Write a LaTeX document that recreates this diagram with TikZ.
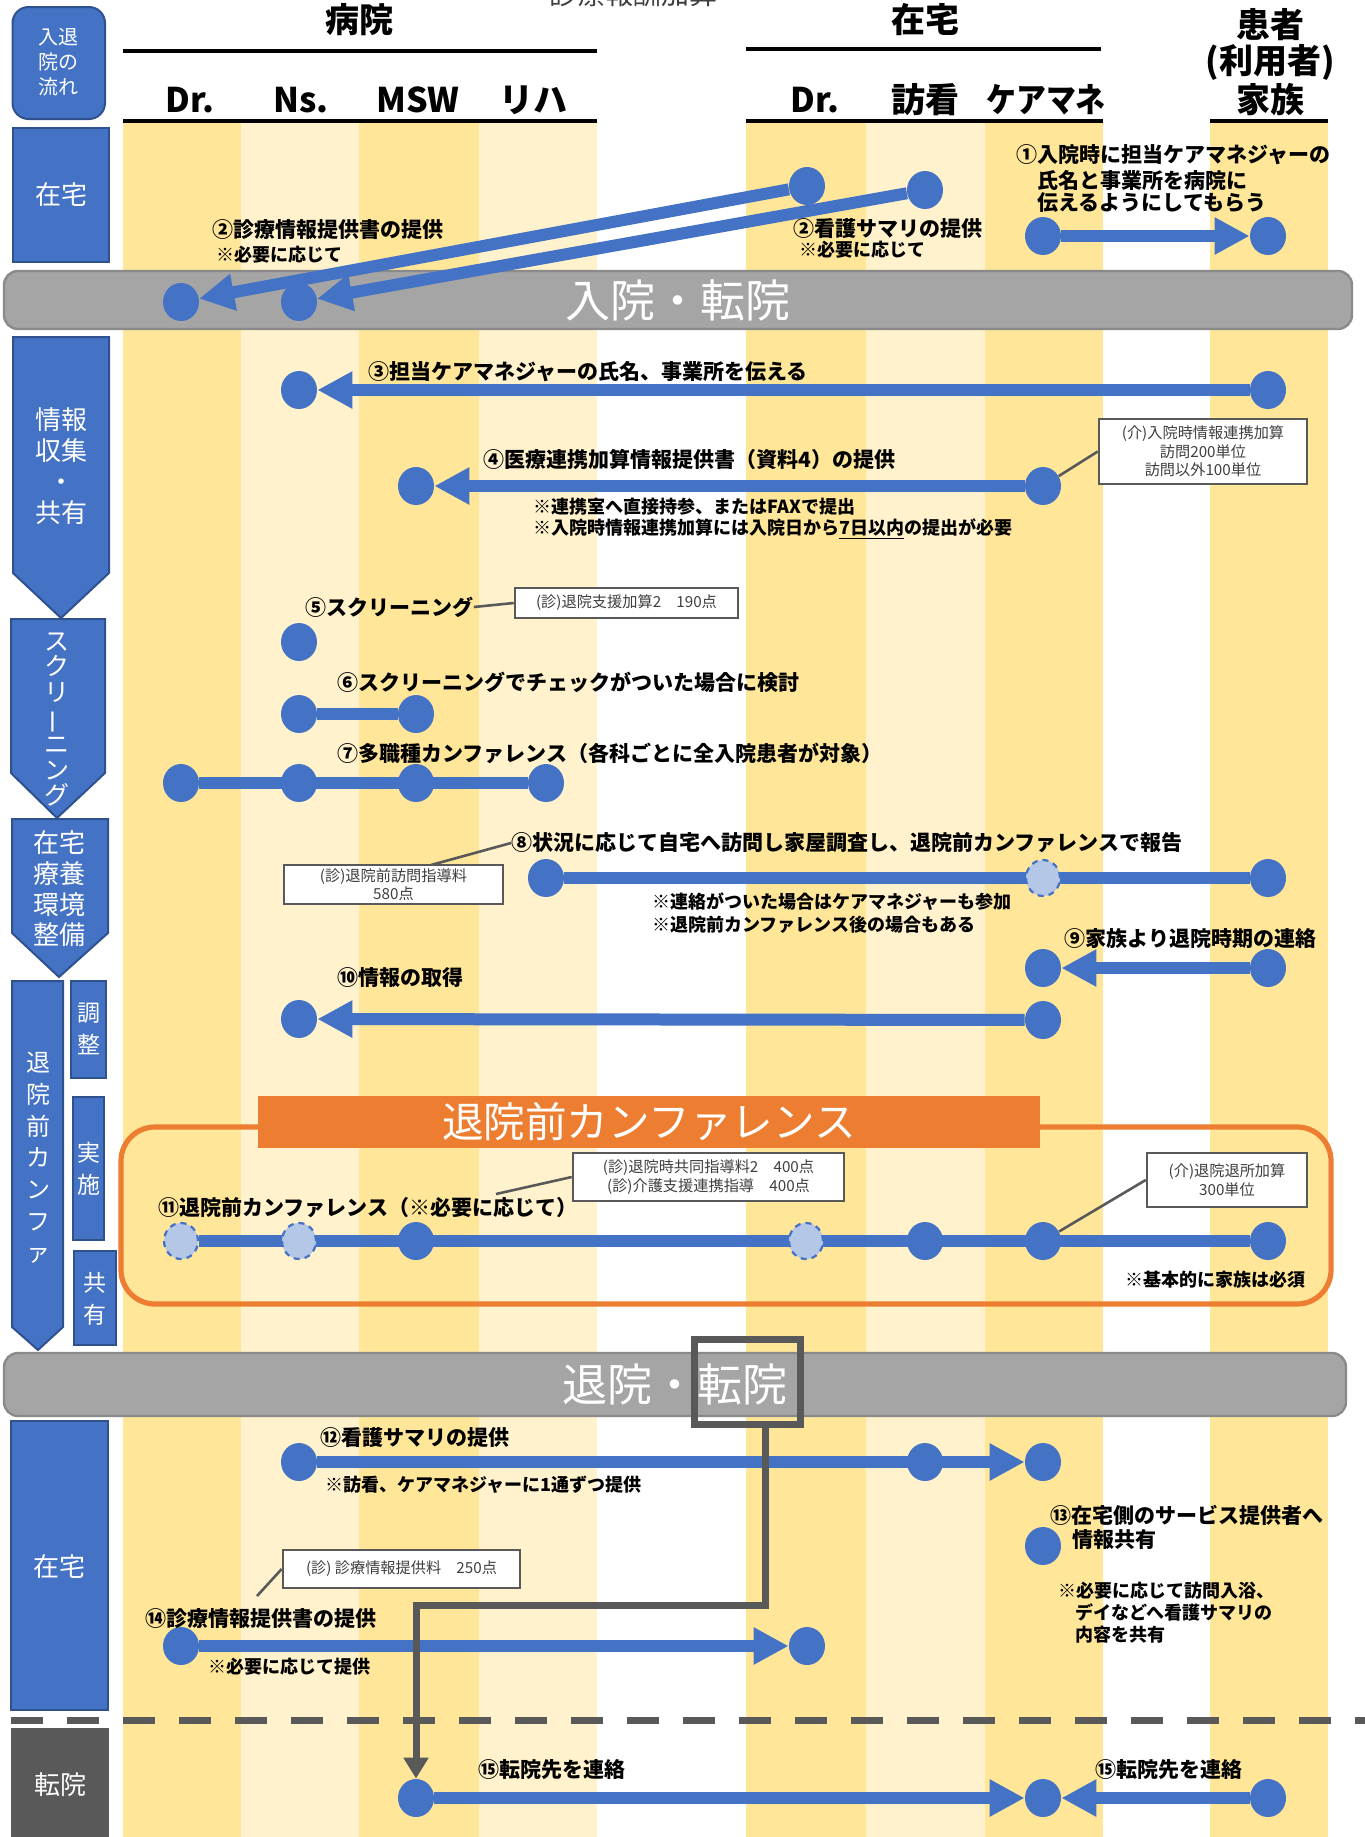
\documentclass[tikz,border=0pt]{standalone}
\usepackage{fontspec}
\setmainfont{Noto Sans CJK JP}
\usetikzlibrary{arrows.meta,shapes.geometric}
\pgfdeclarelayer{back}
\pgfdeclarelayer{mid}
\pgfsetlayers{back,mid,main}
\definecolor{stripeA}{HTML}{FFE699}
\definecolor{stripeB}{HTML}{FFF2CC}
\definecolor{mblue}{HTML}{4472C4}
\definecolor{dblue}{HTML}{2F528F}
\definecolor{lblue}{HTML}{B4C7E7}
\definecolor{bargray}{HTML}{A5A5A5}
\definecolor{bargrayd}{HTML}{8A8A8A}
\definecolor{dgray}{HTML}{595959}
\definecolor{morange}{HTML}{ED7D31}
\definecolor{ctext}{HTML}{3F3F3F}
\begin{document}
\begin{tikzpicture}[x=0.5pt,y=-0.5pt,
 dot/.style={ellipse, fill=mblue, draw=none, minimum width=18pt, minimum height=19pt, inner sep=0pt},
 ddot/.style={ellipse, fill=lblue, draw=mblue, dash pattern=on 3pt off 2.5pt, line width=1.1pt, minimum width=17pt, minimum height=18pt, inner sep=0pt},
 flow/.style={draw=mblue, line width=6pt},
 arr/.style={flow, -{Triangle[length=17.5pt,width=17.5pt]}},
 garr/.style={draw=dgray, line width=3.5pt, -{Triangle[length=10.5pt,width=12pt]}},
 lab/.style={anchor=west, inner sep=0pt, font=\bfseries\fontsize{10.5}{12}\selectfont},
 note/.style={anchor=west, inner sep=0pt, font=\bfseries\fontsize{9}{11}\selectfont},
 call/.style={draw=dgray, line width=1.3pt, fill=white, text=ctext, font=\fontsize{7.6}{9.3}\selectfont, align=center, inner sep=0pt},
 ptr/.style={draw=dgray, line width=1.3pt},
 hdr/.style={font=\bfseries\fontsize{17}{20}\selectfont},
 bluebox/.style={fill=mblue, draw=dblue, line width=1pt},
 boxtxt/.style={text=white, align=center, inner sep=0pt, font=\fontsize{13}{15.5}\selectfont},
 bartxt/.style={text=white, inner sep=0pt, font=\fontsize{22.5}{26}\selectfont},
 hline/.style={draw=black, line width=1.6pt}
]
\useasboundingbox (0,0) rectangle (1365,1837);

\begin{pgfonlayer}{back}
% stripes
\fill[stripeA] (123,121) rectangle (241,1837);
\fill[stripeB] (241,121) rectangle (359,1837);
\fill[stripeA] (359,121) rectangle (479,1837);
\fill[stripeB] (479,121) rectangle (597,1837);
\fill[stripeA] (746,121) rectangle (866,1837);
\fill[stripeB] (866,121) rectangle (985,1837);
\fill[stripeA] (985,121) rectangle (1103,1837);
\fill[stripeA] (1210,121) rectangle (1328,1837);
% header lines
\draw[hline] (123,51) -- (597,51);
\draw[hline] (746,49) -- (1101,49);
\draw[hline] (123,121) -- (597,121);
\draw[hline] (746,121) -- (1103,121);
\draw[hline] (1210,121) -- (1328,121);
% left phase boxes
\draw[bluebox, rounded corners=8pt] (12.5,7) rectangle (105,119);
\draw[bluebox] (12.5,128) rectangle (109,262);
\draw[bluebox] (13,337) -- (109,337) -- (109,573) -- (61,618) -- (13,573) -- cycle;
\draw[bluebox] (11,619) -- (105,619) -- (105,773) -- (57,818) -- (11,773) -- cycle;
\draw[bluebox] (12,819) -- (108,819) -- (108,933) -- (59,977) -- (12,933) -- cycle;
\draw[bluebox] (12,981) -- (63,981) -- (63,1327) -- (38,1350) -- (12,1327) -- cycle;
\draw[bluebox] (71,981) rectangle (106,1078);
\draw[bluebox] (73,1097) rectangle (104,1240);
\draw[bluebox] (74,1251) rectangle (116,1345);
\draw[bluebox] (11,1421) rectangle (108,1710);
\fill[dgray] (11,1728) rectangle (109,1837);
% bars
\draw[fill=bargray, draw=bargrayd, line width=1.2pt, rounded corners=7pt] (4,271) rectangle (1352,329);
\draw[fill=bargray, draw=bargrayd, line width=1.2pt, rounded corners=7pt] (4,1353) rectangle (1346,1416);
% orange conference frame
\draw[morange, line width=2.6pt, rounded corners=17pt] (121,1127) rectangle (1331,1304);
\fill[morange] (258,1096) rectangle (1040,1148);
% dashed separator
\draw[dgray, line width=3.5pt, dash pattern=on 16pt off 12pt] (11,1720) -- (1365,1720);
\end{pgfonlayer}

% cut-off title at the top
\node[font=\fontsize{14}{16}\selectfont, text=ctext] (tTop) at (633,-6) {診療報酬加算};

% headers
\node[hdr] (hHosp) at (359,20) {病院};
\node[hdr] (hHome) at (925,20) {在宅};
\node[hdr] (hPat1) at (1270,25) {患者};
\node[hdr] (hPat2) at (1270,62) {(利用者)};
\node[hdr] (hPat3) at (1270,100) {家族};
\node[hdr] (cDr) at (190,100) {Dr.};
\node[hdr] (cNs) at (301,100) {Ns.};
\node[hdr] (cMSW) at (418,100) {MSW};
\node[hdr] (cReha) at (533,100) {リハ};
\node[hdr] (cHDr) at (815,100) {Dr.};
\node[hdr] (cVN) at (925,100) {訪看};
\node[hdr] (cCM) at (1046,100) {\scalebox{0.88}[1]{ケアマネ}};

% phase box texts
\node[boxtxt, font=\fontsize{10}{12.5}\selectfont] (tFlow) at (59,62) {入退\\院の\\流れ};
\node[boxtxt] (tHome1) at (61,195) {在宅};
\node[boxtxt] (tInfo) at (61,466.5) {情報\\収集\\・\\共有};
\node[boxtxt, font=\fontsize{12.5}{12.9}\selectfont] (tScr) at (57,719.5) {ス\\ク\\リ\\\smash{\rotatebox[origin=c]{90}{ー}}\\ニ\\ン\\グ};
\node[boxtxt, font=\fontsize{13}{15.3}\selectfont] (tEnv) at (59,889) {在宅\\療養\\環境\\整備};
\node[boxtxt, font=\fontsize{12}{15.85}\selectfont] (tConf) at (38,1158) {退\\院\\前\\カ\\ン\\フ\\ァ};
\node[boxtxt, font=\fontsize{11.5}{16}\selectfont] (tAdj) at (88.5,1029) {調\\整};
\node[boxtxt, font=\fontsize{11.5}{16}\selectfont] (tImpl) at (88.5,1168.5) {実\\施};
\node[boxtxt, font=\fontsize{11.5}{16}\selectfont] (tShare) at (95,1298.5) {共\\有};
\node[boxtxt] (tHome2) at (59.5,1567) {在宅};
\node[boxtxt] (tTrans) at (60,1785) {転院};

% bar texts
\node[bartxt] (tAdm) at (678,300) {入院・転院};
\node[bartxt] (tDis) at (675,1384) {退院・転院};
\node[text=white, inner sep=0pt, font=\fontsize{20.8}{24}\selectfont] (tConfH) at (649,1122) {退院前カンファレンス};
\node[draw=dgray, line width=3.5pt, minimum width=53pt, minimum height=42.5pt, inner sep=0pt] (frame) at (747.5,1382) {};

% dots
\node[dot] (d2a) at (181,302) {};
\node[dot] (d2b) at (299,302) {};
\node[dot] (h2a) at (807,186) {};
\node[dot] (h2b) at (925,190) {};
\node[dot] (d1a) at (1043,236) {};
\node[dot] (d1b) at (1268,236) {};
\node[dot] (d3a) at (299,390) {};
\node[dot] (d3b) at (1268,390) {};
\node[dot] (d4a) at (416,486) {};
\node[dot] (d4b) at (1043,486) {};
\node[dot] (d5) at (299,642) {};
\node[dot] (d6a) at (299,714) {};
\node[dot] (d6b) at (416,714) {};
\node[dot] (d7a) at (181,783) {};
\node[dot] (d7b) at (299,783) {};
\node[dot] (d7c) at (416,783) {};
\node[dot] (d7d) at (546,783) {};
\node[dot] (d8a) at (546,878) {};
\node[ddot] (d8b) at (1043,878) {};
\node[dot] (d8c) at (1268,878) {};
\node[dot] (d9a) at (1043,968) {};
\node[dot] (d9b) at (1268,968) {};
\node[dot] (d10a) at (299,1019) {};
\node[dot] (d10b) at (1043,1020) {};
\node[ddot] (d11a) at (181,1241) {};
\node[ddot] (d11b) at (299,1241) {};
\node[dot] (d11c) at (416,1241) {};
\node[ddot] (d11d) at (806,1241) {};
\node[dot] (d11e) at (925,1241) {};
\node[dot] (d11f) at (1043,1241) {};
\node[dot] (d11g) at (1268,1241) {};
\node[dot] (d12a) at (299,1462) {};
\node[dot] (d12b) at (925,1462) {};
\node[dot] (d12c) at (1043,1462) {};
\node[dot] (d13) at (1043,1546) {};
\node[dot] (d14a) at (181,1646) {};
\node[dot] (d14b) at (807,1646) {};
\node[dot] (d15a) at (416,1798) {};
\node[dot] (d15b) at (1043,1798) {};
\node[dot] (d15c) at (1268,1798) {};

% labels
\node[lab] (l2a) at (212,230) {②診療情報提供書の提供};
\node[note] (n2a) at (216,255) {※必要に応じて};
\node[lab] (l2b) at (793,229) {②看護サマリの提供};
\node[note] (n2b) at (799,250) {※必要に応じて};
\node[lab] (l1a) at (1016,155) {①入院時に担当ケアマネジャーの};
\node[lab] (l1b) at (1037,180) {氏名と事業所を病院に};
\node[lab] (l1c) at (1037,203) {伝えるようにしてもらう};
\node[lab] (l3) at (368,372) {③担当ケアマネジャーの氏名、事業所を伝える};
\node[lab] (l4) at (483,459) {④医療連携加算情報提供書（資料4）の提供};
\node[note] (n4a) at (533,507) {※連携室へ直接持参、またはFAXで提出};
\node[note] (n4b) at (533,529) {※入院時情報連携加算には入院日から\underline{7日以内}の提出が必要};
\node[lab] (l5) at (305,607) {⑤スクリーニング};
\node[lab] (l6) at (337,682) {⑥スクリーニングでチェックがついた場合に検討};
\node[lab] (l7) at (337,753) {⑦多職種カンファレンス（各科ごとに全入院患者が対象）};
\node[lab] (l8) at (511,843) {⑧状況に応じて自宅へ訪問し家屋調査し、退院前カンファレンスで報告};
\node[note] (n8a) at (652,902) {※連絡がついた場合はケアマネジャーも参加};
\node[note] (n8b) at (652,925) {※退院前カンファレンス後の場合もある};
\node[lab] (l9) at (1064,939) {⑨家族より退院時期の連絡};
\node[lab] (l10) at (337,978) {⑩情報の取得};
\node[lab] (l11) at (158,1208) {⑪退院前カンファレンス（※必要に応じて）};
\node[note, anchor=east] (n11) at (1306,1280) {※基本的に家族は必須};
\node[lab] (l12) at (320,1438) {⑫看護サマリの提供};
\node[note] (n12) at (325,1485) {※訪看、ケアマネジャーに1通ずつ提供};
\node[lab] (l13a) at (1050,1515) {⑬在宅側のサービス提供者へ};
\node[lab] (l13b) at (1072,1540) {情報共有};
\node[note] (n13a) at (1058,1591) {※必要に応じて訪問入浴、};
\node[note] (n13b) at (1075,1612) {デイなどへ看護サマリの};
\node[note] (n13c) at (1075,1635) {内容を共有};
\node[lab] (l14) at (145,1618) {⑭診療情報提供書の提供};
\node[note] (n14) at (208,1667) {※必要に応じて提供};
\node[lab] (l15a) at (478,1770) {⑮転院先を連絡};
\node[lab] (l15b) at (1095,1770) {⑮転院先を連絡};

% callouts
\node[call, minimum width=104pt, minimum height=32.5pt] (c4) at (1203,451.5) {(介)入院時情報連携加算\\訪問200単位\\訪問以外100単位};
\node[call, minimum width=111.5pt, minimum height=15pt] (c5) at (626.5,603) {(診)退院支援加算2　190点};
\node[call, minimum width=109.5pt, minimum height=19.5pt] (c8) at (393.5,884.5) {(診)退院前訪問指導料\\580点};
\node[call, minimum width=135.5pt, minimum height=24pt] (c11) at (708.5,1177) {(診)退院時共同指導料2　400点\\(診)介護支援連携指導　400点};
\node[call, minimum width=80pt, minimum height=27pt] (c11b) at (1227,1180) {(介)退院退所加算\\300単位};
\node[call, minimum width=118.5pt, minimum height=19pt] (c14) at (401.5,1569) {(診) 診療情報提供料　250点};

\coordinate (p8) at (431,865);
\coordinate (p11) at (496,1194);
\coordinate (p14) at (257,1596);
\coordinate (fr) at (765,1424.5);
\coordinate (bend) at (416,1605);

\begin{pgfonlayer}{mid}
\draw[arr] (h2a) -- (d2a);
\draw[arr] (h2b) -- (d2b);
\draw[arr] (d1a) -- (d1b);
\draw[arr] (d3b) -- (d3a);
\draw[arr] (d4b) -- (d4a);
\draw[flow] (d6a) -- (d6b);
\draw[flow] (d7a) -- (d7d);
\draw[flow] (d8a) -- (d8c);
\draw[arr] (d9b) -- (d9a);
\draw[arr] (d10b) -- (d10a);
\draw[flow] (d11a) -- (d11g);
\draw[arr] (d12a) -- (d12c);
\draw[arr] (d14a) -- (d14b);
\draw[arr] (d15a) -- (d15b);
\draw[arr] (d15c) -- (d15b);
\draw[garr] (fr) |- (bend) -- (d15a);
\draw[ptr] (c4.west) -- (d4b);
\draw[ptr] (l5.east) -- (c5.west);
\draw[ptr] (p8) -- (l8.west);
\draw[ptr] (c11.west) -- (p11);
\draw[ptr] (c11b.west) -- (d11f);
\draw[ptr] (c14.west) -- (p14);
\end{pgfonlayer}
\end{tikzpicture}
\end{document}
